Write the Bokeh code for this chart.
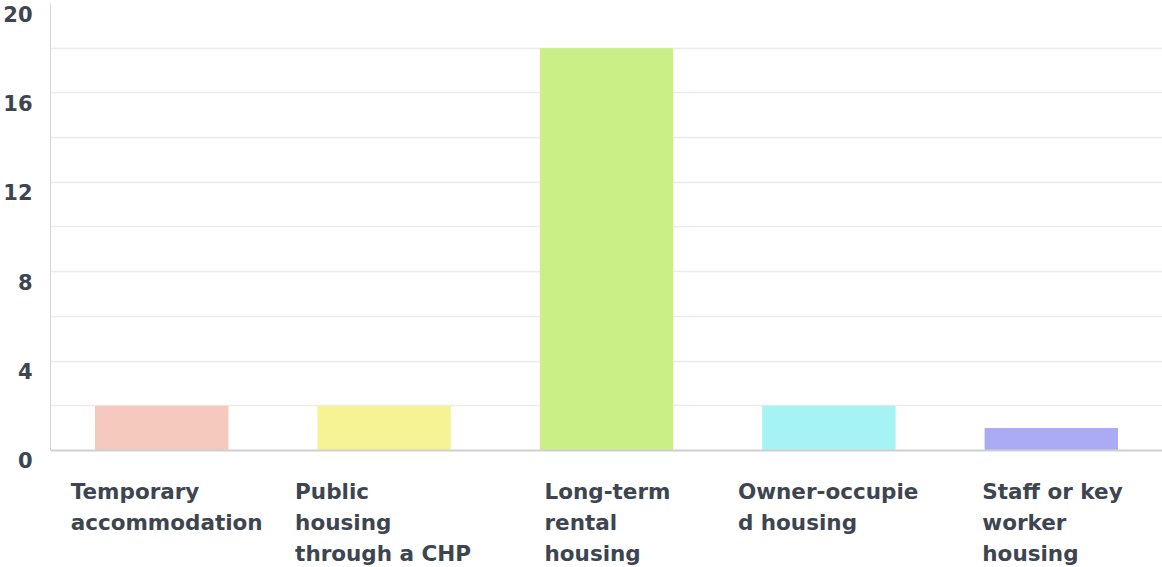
from bokeh.plotting import figure
from bokeh.models import ColumnDataSource, FactorRange, Range1d, FixedTicker, Span
from bokeh.core.properties import value
from bokeh.embed import file_html
from bokeh.resources import INLINE

# ---- data ----
categories = ["Temporary accommodation", "Public housing through a CHP",
              "Long-term rental housing", "Owner-occupied housing",
              "Staff or key worker housing"]
label_lines = [["Temporary", "accommodation"],
               ["Public", "housing", "through a CHP"],
               ["Long-term", "rental", "housing"],
               ["Owner-occupie", "d housing"],
               ["Staff or key", "worker", "housing"]]
counts = [2, 2, 18, 2, 1]
colors = ["#f5c9bd", "#f5f394", "#c9ef86", "#a6f3f6", "#aaaaf5"]
y_tick_values = [0, 4, 8, 12, 16, 20]
grid_values = [2, 4, 6, 8, 10, 12, 14, 16, 18]

# ---- layout / style ----
label_shift = [-91, -89, -62, -91, -69]
LINE_H = 31
FIRST_LINE = 29
TICK_DROP = 0.45          # tick labels sit slightly below their gridline
TEXT = "#3d4550"
FONT = "DejaVu Sans"

bars = ColumnDataSource(dict(cat=categories, count=counts, color=colors))

rows = dict(cat=[], text=[], dx=[], dy=[])
for c, lines, sh in zip(categories, label_lines, label_shift):
    for i, t in enumerate(lines):
        rows["cat"].append(c)
        rows["text"].append(t)
        rows["dx"].append(sh)
        rows["dy"].append(FIRST_LINE + i * LINE_H)
labels = ColumnDataSource(rows)

p = figure(width=1162, height=567, output_backend="svg", toolbar_location=None,
           x_range=FactorRange(*categories, range_padding=0),
           y_range=Range1d(-5.24, 20),
           min_border_left=50, min_border_right=0, min_border_top=3,
           min_border_bottom=0, outline_line_color=None)

p.vbar(x="cat", top="count", width=0.6, fill_color="color", line_color=None, source=bars)

# axes
label_pos = [t - TICK_DROP for t in y_tick_values]
p.yaxis.ticker = FixedTicker(ticks=label_pos)
p.yaxis.major_label_overrides = {pos: str(t) for pos, t in zip(label_pos, y_tick_values)}
p.yaxis.bounds = (0, 20)
p.yaxis.major_tick_line_color = None
p.yaxis.major_tick_out = 0
p.yaxis.minor_tick_line_color = None
p.yaxis.axis_line_color = "#d6d6d6"
p.yaxis.major_label_text_font = FONT
p.yaxis.major_label_text_font_style = "bold"
p.yaxis.major_label_text_font_size = "21px"
p.yaxis.major_label_text_color = TEXT
p.yaxis.major_label_standoff = 18
p.xaxis.visible = False

p.xgrid.grid_line_color = None
p.ygrid.ticker = FixedTicker(ticks=grid_values)
p.ygrid.grid_line_color = "#ececec"
p.ygrid.grid_line_width = 1.5

p.add_layout(Span(location=0, dimension="width", line_color="#d0d0d0", line_width=2))

p.text(x="cat", y=0, text="text", x_offset="dx", y_offset="dy", source=labels,
       text_align="left", text_baseline="top", text_font=value(FONT),
       text_font_style="bold", text_font_size="21.5px", text_color=TEXT)

open("out.html", "w").write(file_html(p, INLINE))
